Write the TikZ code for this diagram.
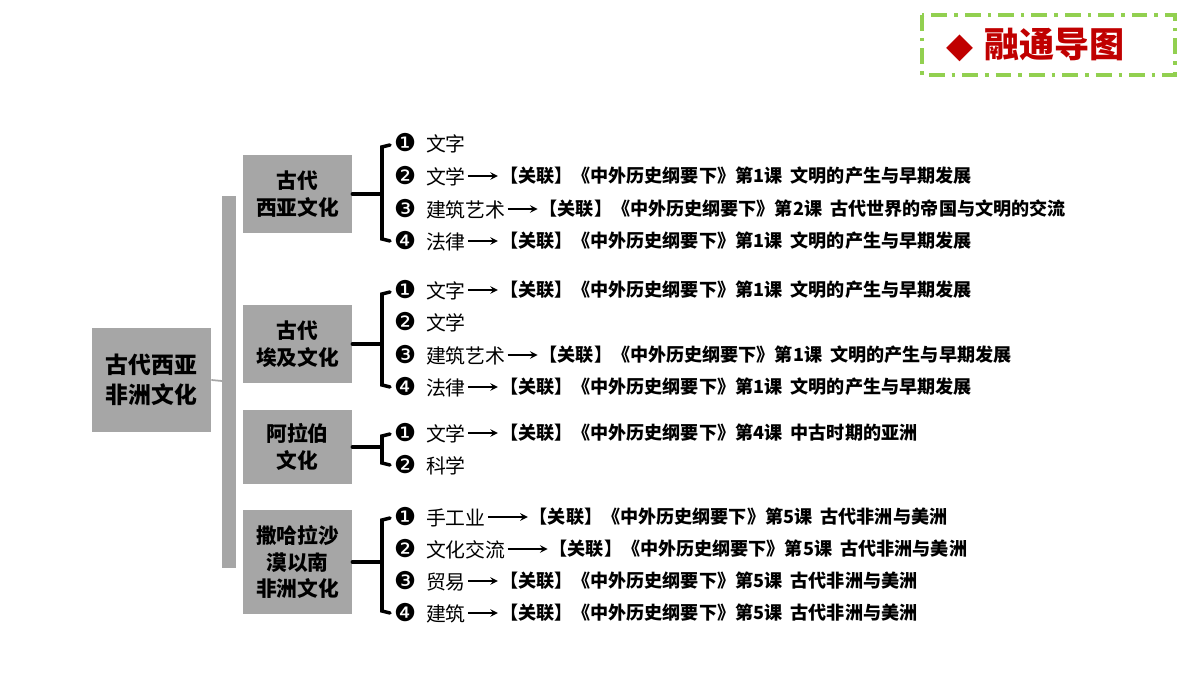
\documentclass[tikz,border=0pt]{standalone}
\usepackage{fontspec}
\setmainfont{Noto Sans CJK SC}
\newfontfamily\numfont{DejaVu Sans}
\usetikzlibrary{positioning}
\definecolor{boxgray}{HTML}{A6A6A6}
\definecolor{titlered}{HTML}{C00000}
\definecolor{dashgreen}{HTML}{92D050}
\tikzset{
  graybox/.style={fill=boxgray,font=\fontsize{11.8}{15}\selectfont\bfseries,align=center,inner sep=0pt},
  item/.style={anchor=west,font=\fontsize{11.3}{13}\selectfont,inner sep=1pt},
  rel/.style={font=\fontsize{10.3}{12}\selectfont\bfseries,inner sep=1pt},
  link/.style={->,>=stealth,line width=0.9pt},
  brace/.style={line width=2pt,line cap=round}
}
\newcommand{\nm}[1]{{\numfont\fontsize{14}{14}\selectfont #1}\hspace{0.5em}}
\begin{document}
\begin{tikzpicture}[x=0.02cm,y=-0.02cm]
\useasboundingbox (0,0) rectangle (1200,675);
% title
\draw[dashgreen,line width=2pt,dash pattern=on 9pt off 4pt on 2pt off 4pt] (922,15) rectangle (1175,75);
\node[text=titlered,font=\fontsize{20}{22}\selectfont\bfseries] (title) at (1036,45) {{\numfont ◆}\hspace{0.3em}融通导图};
% main box
\node[graybox,font=\fontsize{13}{17}\selectfont\bfseries,minimum width=119*0.02cm,minimum height=104*0.02cm] (main) at (151.5,380) {古代西亚\\非洲文化};
\fill[boxgray] (222,196) rectangle (236,568);
\coordinate (mbar) at (222,381);
\draw[boxgray,line width=1pt] (main.east) -- (mbar);
% sub boxes
\node[graybox,minimum width=109*0.02cm,minimum height=78*0.02cm] (b1) at (297.5,194) {古代\\西亚文化};
\node[graybox,minimum width=109*0.02cm,minimum height=78*0.02cm] (b2) at (297.5,344) {古代\\埃及文化};
\node[graybox,minimum width=109*0.02cm,minimum height=74*0.02cm] (b3) at (297.5,447) {阿拉伯\\文化};
\node[graybox,minimum width=109*0.02cm,minimum height=104*0.02cm] (b4) at (297.5,562) {撒哈拉沙\\漠以南\\非洲文化};
% brackets
\draw[brace] (390,145) -- (382,147) -- (382,239) -- (390,241);
\draw[brace] (b1.east) -- (b1.east -| 382,0);
\draw[brace] (390,292) -- (382,294) -- (382,385) -- (390,387);
\draw[brace] (b2.east) -- (b2.east -| 382,0);
\draw[brace] (390,434) -- (382,436) -- (382,463) -- (390,465);
\draw[brace] (b3.east) -- (b3.east -| 382,0);
\draw[brace] (390,518) -- (382,520) -- (382,611) -- (390,613);
\draw[brace] (b4.east) -- (b4.east -| 382,0);
% group 1
\node[item] (a1) at (392,143) {\nm{❶}文字};
\node[item] (a2) at (392,176) {\nm{❷}文学};
\node[item] (a3) at (392,209) {\nm{❸}建筑艺术};
\node[item] (a4) at (392,241) {\nm{❹}法律};
\node[rel,right=30*0.02cm of a2] (r2) {【关联】《中外历史纲要下》第1课\ \ 文明的产生与早期发展};
\node[rel,right=30*0.02cm of a3] (r3) {【关联】《中外历史纲要下》第2课\ \ 古代世界的帝国与文明的交流};
\node[rel,right=30*0.02cm of a4] (r4) {【关联】《中外历史纲要下》第1课\ \ 文明的产生与早期发展};
\draw[link] (a2) -- (r2);
\draw[link] (a3) -- (r3);
\draw[link] (a4) -- (r4);
% group 2
\node[item] (c1) at (392,290) {\nm{❶}文字};
\node[item] (c2) at (392,322) {\nm{❷}文学};
\node[item] (c3) at (392,355) {\nm{❸}建筑艺术};
\node[item] (c4) at (392,387) {\nm{❹}法律};
\node[rel,right=30*0.02cm of c1] (s1) {【关联】《中外历史纲要下》第1课\ \ 文明的产生与早期发展};
\node[rel,right=30*0.02cm of c3] (s3) {【关联】《中外历史纲要下》第1课\ \ 文明的产生与早期发展};
\node[rel,right=30*0.02cm of c4] (s4) {【关联】《中外历史纲要下》第1课\ \ 文明的产生与早期发展};
\draw[link] (c1) -- (s1);
\draw[link] (c3) -- (s3);
\draw[link] (c4) -- (s4);
% group 3
\node[item] (d1) at (392,433) {\nm{❶}文学};
\node[item] (d2) at (392,465) {\nm{❷}科学};
\node[rel,right=30*0.02cm of d1] (t1) {【关联】《中外历史纲要下》第4课\ \ 中古时期的亚洲};
\draw[link] (d1) -- (t1);
% group 4
\node[item] (e1) at (392,517) {\nm{❶}手工业};
\node[item] (e2) at (392,549) {\nm{❷}文化交流};
\node[item] (e3) at (392,581) {\nm{❸}贸易};
\node[item] (e4) at (392,613) {\nm{❹}建筑};
\node[rel,right=40*0.02cm of e1] (u1) {【关联】《中外历史纲要下》第5课\ \ 古代非洲与美洲};
\node[rel,right=40*0.02cm of e2] (u2) {【关联】《中外历史纲要下》第5课\ \ 古代非洲与美洲};
\node[rel,right=30*0.02cm of e3] (u3) {【关联】《中外历史纲要下》第5课\ \ 古代非洲与美洲};
\node[rel,right=30*0.02cm of e4] (u4) {【关联】《中外历史纲要下》第5课\ \ 古代非洲与美洲};
\draw[link] (e1) -- (u1);
\draw[link] (e2) -- (u2);
\draw[link] (e3) -- (u3);
\draw[link] (e4) -- (u4);
\end{tikzpicture}
\end{document}
